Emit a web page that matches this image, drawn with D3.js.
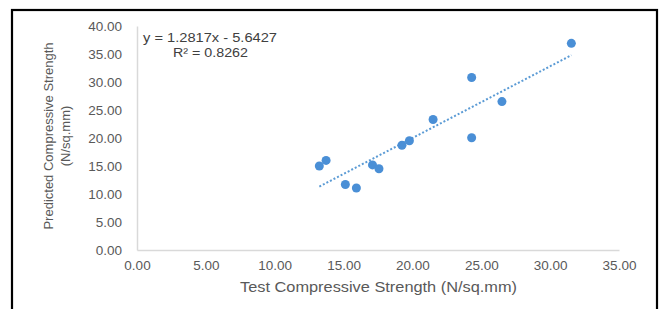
<!DOCTYPE html>
<html>
<head>
<meta charset="utf-8">
<script src="https://cdn.jsdelivr.net/npm/d3@7"></script>
<style>
  body { margin: 0; background: #fff; }
  svg { display: block; }
</style>
</head>
<body>
<div id="chart"></div>
<script>
// Data
const testStrength = [13.24, 13.73, 15.13, 15.93, 17.1, 17.57, 19.24, 19.78, 21.5, 24.3, 24.3, 26.5, 31.54];
const predStrength = [15.0, 16.0, 11.7, 11.07, 15.2, 14.5, 18.7, 19.5, 23.3, 30.8, 20.05, 26.5, 36.9];
const xTicks = [0, 5, 10, 15, 20, 25, 30, 35];
const yTicks = [0, 5, 10, 15, 20, 25, 30, 35, 40];
const trendSlope = 1.2817, trendIntercept = -5.6427, rSquared = 0.8262;

const W = 664, H = 309;
const margin = {top: 26, right: 45, bottom: 59, left: 137},
    width = 619 - margin.left,
    height = 250 - margin.top;

const svg = d3.select("#chart")
    .append("svg")
        .attr("width", W)
        .attr("height", H);

// Outer frame
svg.append("rect")
    .attr("x", 12).attr("y", 10)
    .attr("width", 645).attr("height", 320)
    .attr("fill", "none")
    .attr("stroke", "#000")
    .attr("stroke-width", 2.2);

const g = svg.append("g")
    .attr("transform", "translate(" + margin.left + "," + margin.top + ")");

const x = d3.scaleLinear().domain([0, 35]).range([0, width]);
const y = d3.scaleLinear().domain([0, 40]).range([height, 0]);

const font = "'Liberation Sans', Arial, sans-serif";

// X axis
const xAxis = g.append("g")
    .attr("transform", "translate(0," + height + ")")
    .call(d3.axisBottom(x).tickValues(xTicks).tickSize(0).tickPadding(10)
        .tickFormat(d3.format(".2f")));
// Y axis
const yAxis = g.append("g")
    .call(d3.axisLeft(y).tickValues(yTicks).tickSize(0).tickPadding(15)
        .tickFormat(d3.format(".2f")));

[xAxis, yAxis].forEach(a => {
    a.select(".domain").attr("stroke", "#d9d9d9").attr("stroke-width", 1.5);
    a.selectAll("text")
        .style("font-family", font)
        .style("font-size", "13.5px")
        .attr("fill", "#595959");
});

// Axis titles
g.append("text")
    .attr("x", width / 2 - 138)
    .attr("y", height + 42)
    .attr("textLength", 277)
    .attr("lengthAdjust", "spacingAndGlyphs")
    .style("font-family", font)
    .style("font-size", "14.5px")
    .attr("fill", "#595959")
    .text("Test Compressive Strength (N/sq.mm)");

const yTitle = g.append("text")
    .attr("transform", "translate(" + (-84) + "," + (height / 2 - 2) + ") rotate(-90)")
    .attr("text-anchor", "middle")
    .style("font-family", font)
    .style("font-size", "13px")
    .attr("fill", "#595959");
yTitle.append("tspan").attr("x", 0).attr("dy", 0).text("Predicted Compressive Strength");
yTitle.append("tspan").attr("x", 0).attr("dy", 17).text("(N/sq.mm)");

// Trendline
const xMin = d3.min(testStrength), xMax = d3.max(testStrength);
g.append("line")
    .attr("x1", x(xMin)).attr("y1", y(trendSlope * xMin + trendIntercept))
    .attr("x2", x(xMax)).attr("y2", y(trendSlope * xMax + trendIntercept))
    .attr("stroke", "#5b9bd5")
    .attr("stroke-width", 2)
    .attr("stroke-dasharray", "2,2");

// Points
g.selectAll("circle")
    .data(testStrength.map((d, i) => [d, predStrength[i]]))
    .join("circle")
        .attr("cx", d => x(d[0]))
        .attr("cy", d => y(d[1]))
        .attr("r", 4.5)
        .attr("fill", "#4a8fd6");

// Equation label
const eq = g.append("text")
    .style("font-family", font)
    .style("font-size", "12.5px")
    .attr("fill", "#404040");
eq.append("tspan").attr("x", 6).attr("y", 16)
    .attr("textLength", 134).attr("lengthAdjust", "spacingAndGlyphs")
    .text("y = " + trendSlope + "x - " + (-trendIntercept));
eq.append("tspan").attr("x", 36).attr("y", 31)
    .attr("textLength", 75).attr("lengthAdjust", "spacingAndGlyphs")
    .text("R² = " + rSquared);
</script>
</body>
</html>
